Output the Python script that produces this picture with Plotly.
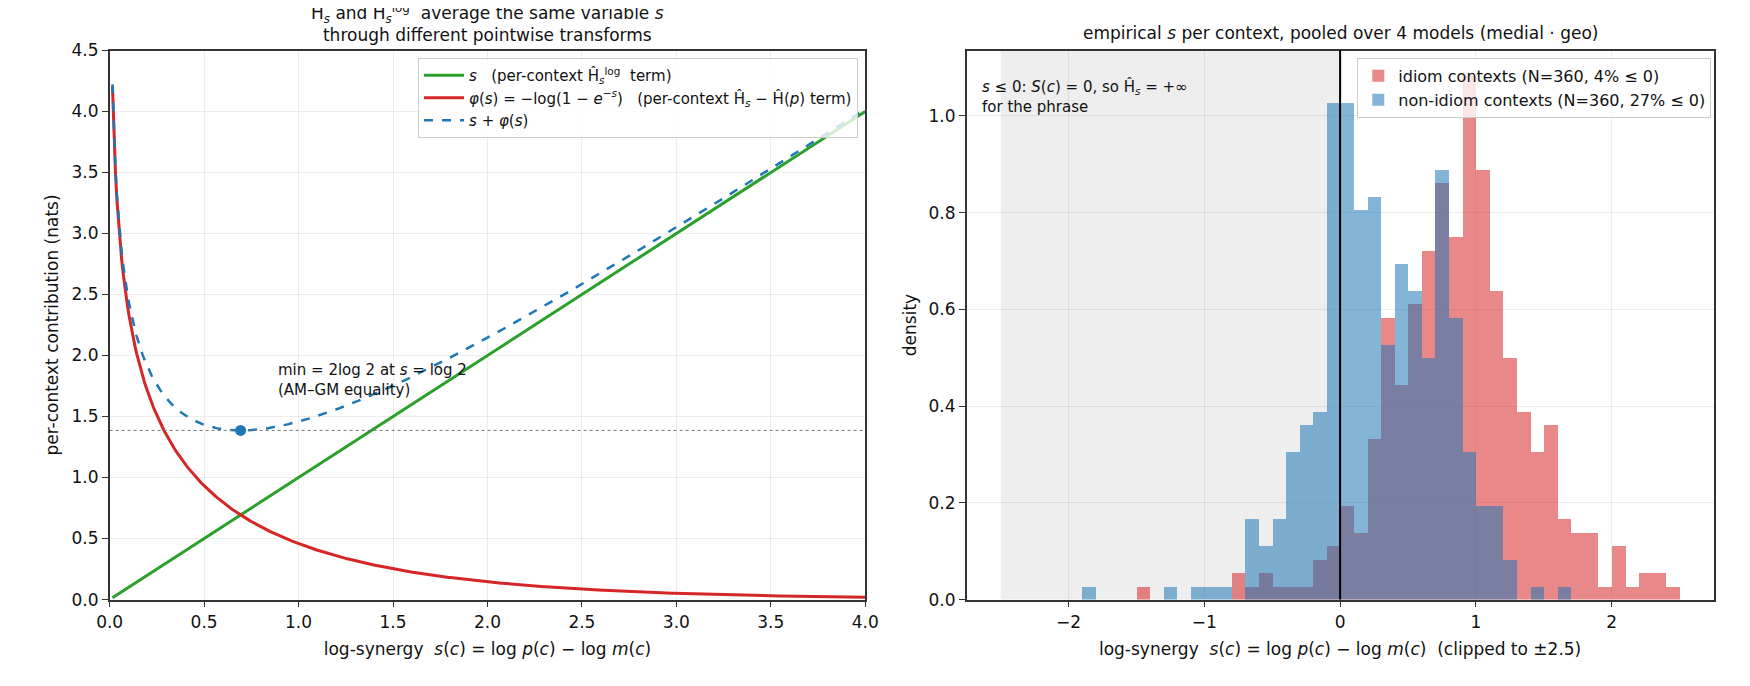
import numpy as np
import plotly.graph_objects as go

# ---- left panel data ----
s_grid = np.linspace(0.015, 4.0, 500)
phi_vals = -np.log(1 - np.exp(-s_grid))
sum_vals = s_grid + phi_vals
s_min = np.log(2)
h_min = 2 * np.log(2)

# ---- right panel data (histogram counts, bin width 0.1, bins from -2.5 to 2.5) ----
bin_left = [round(-2.5 + 0.1 * i, 1) for i in range(50)]
idiom_counts = {-1.5: 1, -0.8: 2, -0.7: 1, -0.6: 2, -0.5: 1, -0.4: 1, -0.3: 1, -0.2: 3, -0.1: 4,
                0.0: 7, 0.1: 5, 0.2: 12, 0.3: 21, 0.4: 16, 0.5: 22, 0.6: 26, 0.7: 31, 0.8: 27,
                0.9: 39, 1.0: 32, 1.1: 23, 1.2: 18, 1.3: 14, 1.4: 11, 1.5: 13, 1.6: 6, 1.7: 5,
                1.8: 5, 1.9: 1, 2.0: 4, 2.1: 1, 2.2: 2, 2.3: 2, 2.4: 1}
nonidiom_counts = {-1.9: 1, -1.3: 1, -1.1: 1, -1.0: 1, -0.9: 1, -0.7: 6, -0.6: 4, -0.5: 6,
                   -0.4: 11, -0.3: 13, -0.2: 14, -0.1: 37, 0.0: 37, 0.1: 29, 0.2: 30, 0.3: 19,
                   0.4: 25, 0.5: 23, 0.6: 18, 0.7: 32, 0.8: 21, 0.9: 11, 1.0: 7, 1.1: 7,
                   1.2: 3, 1.4: 1, 1.6: 1}
N = 360
BW = 0.1
centers = [b + BW / 2 for b in bin_left]
idiom_density = [idiom_counts.get(b, 0) / (N * BW) for b in bin_left]
nonidiom_density = [nonidiom_counts.get(b, 0) / (N * BW) for b in bin_left]

fig = go.Figure()
F = "DejaVu Sans"

fig.add_trace(go.Scatter(x=s_grid, y=s_grid, mode="lines", line=dict(color="#2ca02c", width=3),
                         name="<i>s</i>   (per-context Ĥ<sub><i>s</i></sub><sup>log</sup>  term)",
                         xaxis="x", yaxis="y"))
fig.add_trace(go.Scatter(x=s_grid, y=phi_vals, mode="lines", line=dict(color="#d62728", width=3),
                         name="<i>φ</i>(<i>s</i>) = −log(1 − <i>e</i><sup>−<i>s</i></sup>)   (per-context Ĥ<sub><i>s</i></sub> − Ĥ(<i>p</i>) term)",
                         xaxis="x", yaxis="y"))
fig.add_trace(go.Scatter(x=s_grid, y=sum_vals, mode="lines", line=dict(color="#1f77b4", width=2.5, dash="dash"),
                         name="<i>s</i> + <i>φ</i>(<i>s</i>)", xaxis="x", yaxis="y"))
fig.add_trace(go.Scatter(x=[0, 4], y=[h_min, h_min], mode="lines", showlegend=False,
                         line=dict(color="#777777", width=1, dash="dot"), xaxis="x", yaxis="y"))
fig.add_trace(go.Scatter(x=[s_min], y=[h_min], mode="markers", showlegend=False,
                         marker=dict(color="#1f77b4", size=11), xaxis="x", yaxis="y"))

fig.add_trace(go.Bar(x=centers, y=idiom_density, width=BW, marker=dict(color="rgba(214,39,40,0.55)", line=dict(width=0)),
                     name="idiom contexts (N=360, 4% ≤ 0)", xaxis="x2", yaxis="y2", legend="legend2"))
fig.add_trace(go.Bar(x=centers, y=nonidiom_density, width=BW, marker=dict(color="rgba(31,119,180,0.55)", line=dict(width=0)),
                     name="non-idiom contexts (N=360, 27% ≤ 0)", xaxis="x2", yaxis="y2", legend="legend2"))

ax = dict(showline=True, linecolor="#333333", linewidth=1.5, mirror=True, ticks="outside",
          tickcolor="#333333", ticklen=6, showgrid=True, gridcolor="rgba(0,0,0,0.07)", zeroline=False,
          tickfont=dict(family=F, size=17, color="#111"), title_font=dict(family=F, size=17, color="#111"))

fig.update_layout(
    width=1750, height=686, margin=dict(l=0, r=0, t=0, b=0),
    paper_bgcolor="white", plot_bgcolor="white", barmode="overlay", bargap=0,
    font=dict(family=F, size=16, color="#111"),
    xaxis=dict(ax, domain=[0.0509, 0.4897], range=[0, 4], dtick=0.5, tickformat=".1f",
               title=dict(text="log-synergy  <i>s</i>(<i>c</i>) = log <i>p</i>(<i>c</i>) − log <i>m</i>(<i>c</i>)", standoff=12)),
    yaxis=dict(ax, domain=[0.1268, 0.9512], range=[0, 4.5], dtick=0.5, tickformat=".1f",
               title=dict(text="per-context contribution (nats)", standoff=8)),
    xaxis2=dict(ax, domain=[0.5486, 0.9823], range=[-2.75, 2.75], dtick=1, anchor="y2",
                title=dict(text="log-synergy  <i>s</i>(<i>c</i>) = log <i>p</i>(<i>c</i>) − log <i>m</i>(<i>c</i>)  (clipped to ±2.5)", standoff=12)),
    yaxis2=dict(ax, domain=[0.1268, 0.9512], range=[0, 1.135], dtick=0.2, tickformat=".1f", anchor="x2",
                title=dict(text="density", standoff=8)),
    legend=dict(x=0.4855, y=0.94, xanchor="right", yanchor="top", bgcolor="rgba(255,255,255,0.8)",
                bordercolor="#cccccc", borderwidth=1, font=dict(family=F, size=15), tracegroupgap=6,
                itemwidth=40),
    legend2=dict(x=0.981, y=0.94, xanchor="right", yanchor="top", bgcolor="rgba(255,255,255,0.8)",
                 bordercolor="#cccccc", borderwidth=1, font=dict(family=F, size=16)),
    shapes=[
        dict(type="rect", xref="x2", yref="y2 domain", x0=-2.5, x1=0, y0=0, y1=1,
             fillcolor="#eeeeee", line=dict(width=0), layer="below"),
        dict(type="line", xref="x2", yref="y2 domain", x0=0, x1=0, y0=0, y1=1,
             line=dict(color="black", width=2)),
    ],
    annotations=[
        dict(text="Ĥ<sub><i>s</i></sub> and Ĥ<sub><i>s</i></sub><sup>log</sup>  average the same variable <i>s</i><br>through different pointwise transforms",
             xref="paper", yref="paper", x=0.2703, y=0.9512, yshift=4, xanchor="center", yanchor="bottom",
             showarrow=False, font=dict(family=F, size=17)),
        dict(text="empirical <i>s</i> per context, pooled over 4 models (medial · geo)",
             xref="paper", yref="paper", x=0.7655, y=0.9512, yshift=6, xanchor="center", yanchor="bottom",
             showarrow=False, font=dict(family=F, size=17)),
        dict(text="min = 2log 2 at <i>s</i> = log 2<br>(AM–GM equality)", xref="x", yref="y", x=0.88, y=1.8,
             xanchor="left", yanchor="middle", align="left", showarrow=False, font=dict(family=F, size=15)),
        dict(text="<i>s</i> ≤ 0: <i>S</i>(<i>c</i>) = 0, so Ĥ<sub><i>s</i></sub> = +∞<br>for the phrase",
             xref="x2", yref="y2", x=-2.65, y=1.04, xanchor="left", yanchor="middle", align="left",
             showarrow=False, font=dict(family=F, size=15)),
    ],
)
fig.write_html("out.html")
